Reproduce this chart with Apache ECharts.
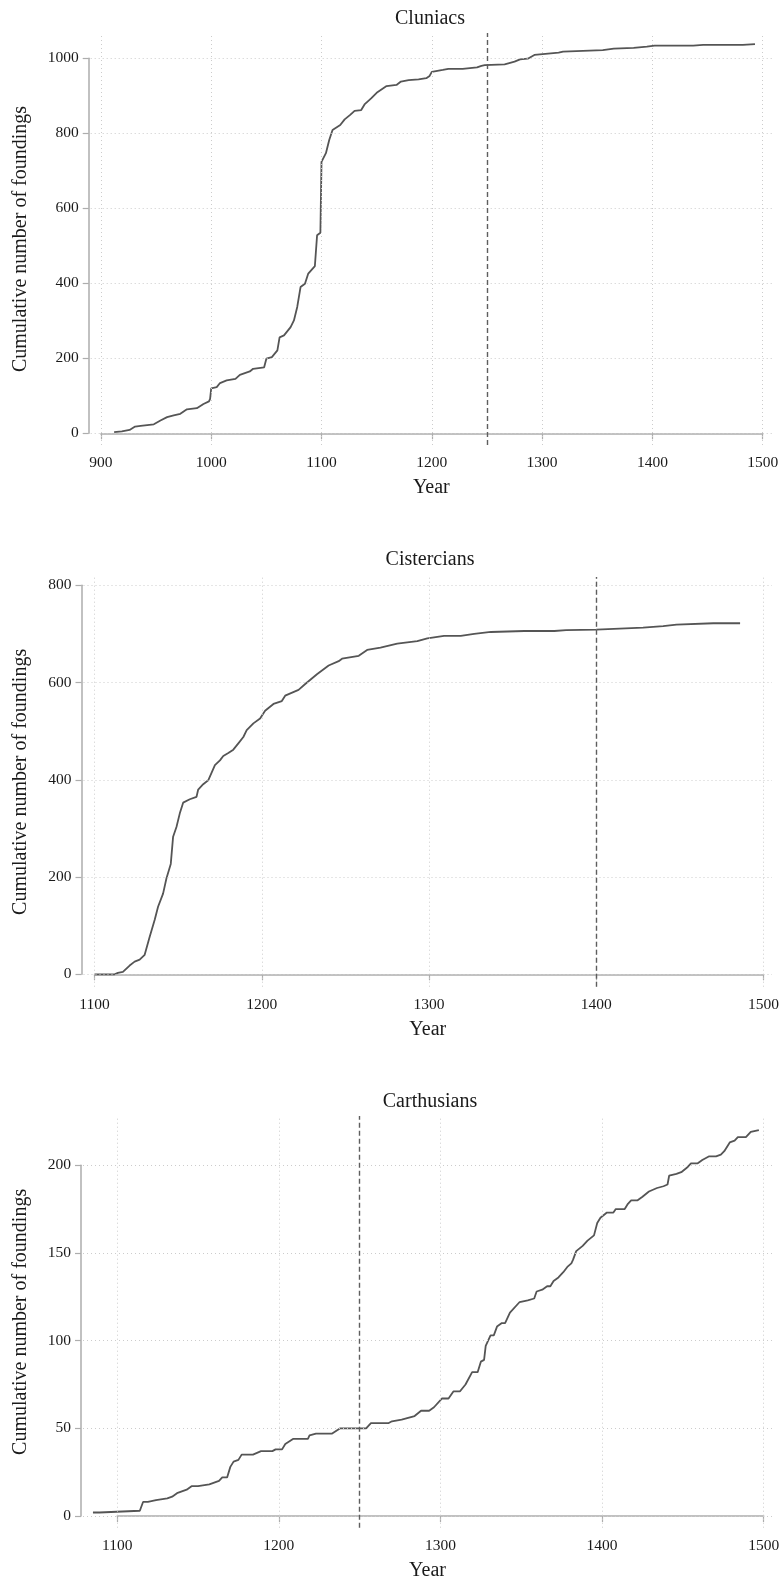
<!DOCTYPE html>
<html>
<head>
<meta charset="utf-8">
<title>Cumulative foundings: Cluniacs, Cistercians, Carthusians</title>
<script src="https://cdn.jsdelivr.net/npm/echarts@6/dist/echarts.min.js"></script>
<style>
  html, body { margin: 0; padding: 0; background: #ffffff; }
  #chart { width: 781px; height: 1582px; }
</style>
</head>
<body>
<div id="chart"></div>
<script>
// ---------------- data ----------------
const cluniacsYears = [912, 919, 926, 931, 936, 948, 954, 960, 966, 972, 978, 987, 993, 998, 999, 1000, 1005, 1008, 1014, 1022,
  1026, 1035, 1038, 1048, 1050, 1055, 1060, 1062, 1066, 1072, 1075, 1078, 1081, 1085, 1088, 1094, 1096, 1099, 1100, 1104,
  1107, 1110, 1117, 1121, 1126, 1130, 1136, 1139, 1145, 1150, 1156, 1159, 1168, 1172, 1179, 1188, 1195, 1198, 1200, 1210,
  1215, 1228, 1241, 1245, 1248, 1266, 1271, 1275, 1280, 1287, 1293, 1303, 1315, 1319, 1337, 1355, 1365, 1383, 1395, 1402,
  1437, 1446, 1482, 1493];
const cluniacsCounts = [3, 5, 9, 18, 20, 24, 34, 43, 48, 52, 64, 67, 78, 85, 92, 120, 123, 134, 141, 145,
  156, 165, 172, 176, 199, 203, 221, 256, 261, 283, 301, 337, 390, 399, 426, 446, 528, 535, 724, 747,
  782, 809, 822, 837, 849, 860, 862, 877, 893, 908, 920, 926, 929, 938, 942, 944, 947, 953, 964, 969,
  972, 972, 976, 980, 982, 984, 988, 991, 997, 999, 1009, 1012, 1015, 1018, 1020, 1022, 1026, 1028, 1031, 1034,
  1034, 1036, 1036, 1038];

const cisterciansYears = [1100, 1112, 1114, 1117, 1121, 1124, 1127, 1130, 1133, 1136, 1138, 1141, 1143, 1145.6, 1147, 1149,
  1151, 1153, 1157, 1161, 1162, 1165, 1168, 1172, 1175, 1177, 1180, 1183, 1186, 1189, 1191, 1195, 1199, 1202, 1207, 1212,
  1214, 1222, 1226, 1233, 1240, 1246, 1248, 1258, 1263, 1271, 1281, 1293, 1299, 1309, 1319, 1327, 1337, 1357, 1375, 1382,
  1400, 1428, 1440, 1448, 1470, 1486];
const cisterciansCounts = [0, 0, 3, 5, 18, 26, 30, 40, 77, 112, 139, 166, 197, 227, 283, 303,
  331, 353, 360, 365, 380, 391, 399, 430, 440, 449, 455, 462, 475, 488, 502, 516, 526, 542, 556, 562,
  573, 585, 597, 617, 635, 644, 649, 655, 667, 672, 680, 685, 691, 696, 696, 700, 704, 706, 706, 708,
  709, 713, 716, 719, 722, 722];

const carthusiansYears = [1085, 1089, 1090, 1114, 1116, 1119, 1120, 1124, 1125, 1131, 1134, 1137, 1140, 1143, 1146, 1150,
  1151, 1157, 1160, 1163, 1165, 1168, 1169, 1170, 1172, 1175, 1177, 1184, 1185, 1189, 1196, 1198, 1202, 1204, 1209, 1218,
  1219, 1223, 1233, 1238, 1254, 1257, 1268, 1270, 1276, 1280, 1284, 1288, 1293, 1296, 1301, 1305, 1308, 1312, 1315.5, 1319.6,
  1323, 1325, 1327, 1328, 1331, 1333, 1335, 1338, 1340, 1343, 1349, 1354, 1358, 1359.5, 1363, 1366, 1368, 1370, 1373, 1376,
  1378.5, 1381, 1382, 1384, 1388, 1391, 1395, 1397, 1399, 1403, 1407, 1408.5, 1414, 1416, 1418, 1422, 1425, 1429, 1434, 1438,
  1440.5, 1441.5, 1446, 1449, 1453, 1455, 1459, 1462, 1466, 1470.5, 1473.5, 1475.6, 1479, 1482, 1484, 1489, 1492, 1497];
const carthusiansCounts = [2, 2, 3, 3, 8, 8, 9, 9, 10, 10, 11, 13, 14, 15, 17, 17,
  18, 18, 19, 20, 22, 22, 23, 28, 31, 32, 35, 35, 36, 37, 37, 38, 38, 41, 44, 44,
  46, 47, 47, 50, 50, 53, 53, 54, 55, 56, 57, 60, 60, 62, 67, 67, 71, 71, 75, 82,
  82, 88, 89, 97, 103, 103, 108, 110, 110, 116, 122, 123, 124, 128, 129, 131, 131, 134, 136, 139,
  142, 144, 146, 151, 154, 157, 160, 167, 170, 173, 173, 175, 175, 178, 180, 180, 182, 185, 187, 188,
  189, 194, 195, 196, 199, 201, 201, 203, 205, 205, 206, 208, 213, 214, 216, 216, 219, 220];

// tick values of each panel
const cluniacsXTicks = [900, 1000, 1100, 1200, 1300, 1400, 1500];
const cluniacsYTicks = [0, 200, 400, 600, 800, 1000];
const cisterciansXTicks = [1100, 1200, 1300, 1400, 1500];
const cisterciansYTicks = [0, 200, 400, 600, 800];
const carthusiansXTicks = [1100, 1200, 1300, 1400, 1500];
const carthusiansYTicks = [0, 50, 100, 150, 200];

const panelTitles = ['Cluniacs', 'Cistercians', 'Carthusians'];
const markerYears = [1250, 1400, 1250];
const xTitle = 'Year';
const yTitle = 'Cumulative number of foundings';

// ---------------- layout (pixels) ----------------
// axisX / axisY: where the y and x axis lines sit; tick*: pixel span of the first/last tick;
// plotTop: upper end of the dotted grid.
const layouts = [
  { axisX: 88.7, axisY: 445.0, tickLeft: 100.9, tickRight: 762.7, tickTop: 58.3, tickBottom: 433.3, plotTop: 33, titleY: 18.5 },
  { axisX: 81.5, axisY: 986.7, tickLeft: 94.5, tickRight: 763.5, tickTop: 585.3, tickBottom: 974.3, plotTop: 577, titleY: 559.5 },
  { axisX: 81.0, axisY: 1527.7, tickLeft: 117.2, tickRight: 763.7, tickTop: 1165.2, tickBottom: 1516.0, plotTop: 1116, titleY: 1101.5 }
];
const plotRight = 772;
const titleX = 430;

const FONT = '"Liberation Serif", "Times New Roman", serif';
const AXIS_GREY = '#adadad';
const TEXT = '#1a1a1a';

const panels = [
  { years: cluniacsYears, counts: cluniacsCounts, xTicks: cluniacsXTicks, yTicks: cluniacsYTicks },
  { years: cisterciansYears, counts: cisterciansCounts, xTicks: cisterciansXTicks, yTicks: cisterciansYTicks },
  { years: carthusiansYears, counts: carthusiansCounts, xTicks: carthusiansXTicks, yTicks: carthusiansYTicks }
];

// linear extension of a tick scale to another pixel position
function extend(v0, v1, p0, p1, q) {
  return v0 + (q - p0) * (v1 - v0) / (p1 - p0);
}

const grid = [], xAxis = [], yAxis = [], series = [], graphic = [];

panels.forEach((p, i) => {
  const L = layouts[i];
  const x0 = p.xTicks[0], x1 = p.xTicks[p.xTicks.length - 1];
  const y0 = p.yTicks[0], y1 = p.yTicks[p.yTicks.length - 1];
  const plotLeft = L.axisX + 2;

  // plotting area (data, grid lines, reference line)
  grid.push({ left: plotLeft, top: L.plotTop, width: plotRight - plotLeft, height: L.axisY - L.plotTop,
    outerBoundsMode: 'none' });
  // frame carrying the visible axes, spanning exactly the tick range
  grid.push({ left: L.tickLeft, top: L.tickTop, width: L.tickRight - L.tickLeft, height: L.tickBottom - L.tickTop,
    outerBoundsMode: 'none' });

  const gA = 2 * i, gB = 2 * i + 1;

  xAxis.push({
    gridIndex: gA, type: 'value',
    min: extend(x0, x1, L.tickLeft, L.tickRight, plotLeft),
    max: extend(x0, x1, L.tickLeft, L.tickRight, plotRight),
    axisLine: { show: false }, axisTick: { show: false }, axisLabel: { show: false }, splitLine: { show: false },
    name: xTitle, nameLocation: 'middle', nameGap: 33,
    nameTextStyle: { fontFamily: FONT, fontSize: 20, color: TEXT }
  });
  yAxis.push({
    gridIndex: gA, type: 'value',
    min: extend(y0, y1, L.tickBottom, L.tickTop, L.axisY),
    max: extend(y0, y1, L.tickBottom, L.tickTop, L.plotTop),
    axisLine: { show: false }, axisTick: { show: false }, axisLabel: { show: false }, splitLine: { show: false },
    name: yTitle, nameLocation: 'middle', nameRotate: 90, nameGap: plotLeft - 31,
    nameTextStyle: { fontFamily: FONT, fontSize: 20, color: TEXT }
  });

  const axisCommon = {
    type: 'value',
    axisLine: { show: true, lineStyle: { color: AXIS_GREY, width: 1.5 } },
    axisTick: { show: true, inside: false, length: 6, lineStyle: { color: AXIS_GREY, width: 1.2 } },
    axisLabel: { show: true, margin: 10, fontFamily: FONT, fontSize: 15.5, color: TEXT,
      showMinLabel: true, showMaxLabel: true, formatter: v => String(v) },
    splitLine: { show: false }
  };
  xAxis.push(Object.assign({}, axisCommon, {
    gridIndex: gB, min: x0, max: x1, interval: p.xTicks[1] - p.xTicks[0],
    offset: L.axisY - L.tickBottom
  }));
  yAxis.push(Object.assign({}, axisCommon, {
    gridIndex: gB, min: y0, max: y1, interval: p.yTicks[1] - p.yTicks[0],
    offset: L.tickLeft - L.axisX
  }));

  // dotted grid lines at every tick
  series.push({
    type: 'line', xAxisIndex: gA, yAxisIndex: gA, data: [], silent: true, z: 1,
    markLine: {
      silent: true, symbol: ['none', 'none'], label: { show: false }, animation: false,
      lineStyle: { color: '#cccccc', width: 1, type: [1, 3] },
      emphasis: { disabled: true },
      data: p.xTicks.map(v => ({ xAxis: v })).concat(p.yTicks.map(v => ({ yAxis: v })))
    }
  });

  // cumulative foundings with its dashed reference year
  series.push({
    type: 'line', xAxisIndex: gA, yAxisIndex: gA, z: 3,
    data: p.years.map((y, k) => [y, p.counts[k]]),
    showSymbol: false, symbol: 'none', silent: true,
    lineStyle: { color: '#555555', width: 1.8 },
    markLine: {
      silent: true, symbol: ['none', 'none'], label: { show: false }, animation: false,
      lineStyle: { color: '#5e5e5e', width: 1.4, type: [5, 3] },
      emphasis: { disabled: true },
      data: [{ xAxis: markerYears[i] }]
    }
  });

  graphic.push({
    type: 'text', x: titleX, y: L.titleY, silent: true,
    style: { text: panelTitles[i], fontFamily: FONT, fontSize: 20, fill: TEXT, align: 'center', verticalAlign: 'middle' }
  });
});

const chart = echarts.init(document.getElementById('chart'), null, { renderer: 'canvas' });
chart.setOption({
  backgroundColor: '#ffffff',
  animation: false,
  grid, xAxis, yAxis, series, graphic
});
</script>
</body>
</html>
